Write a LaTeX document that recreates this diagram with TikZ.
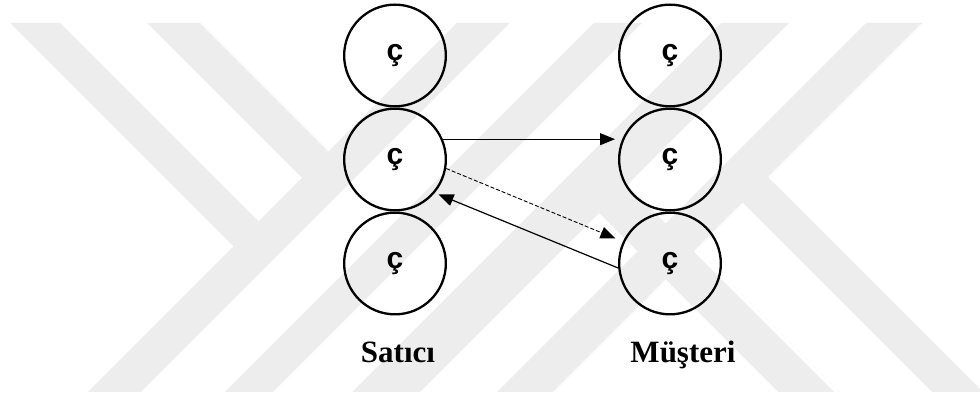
\documentclass[tikz,border=0pt]{standalone}
\usepackage{fontspec}
\setmainfont{Liberation Serif}
\newfontfamily\harf{Liberation Sans}
\usetikzlibrary{positioning}
\usetikzlibrary{calc}
\usetikzlibrary{arrows.meta}

\begin{document}
\begin{tikzpicture}[x=1pt,y=1pt,
	halka/.style={circle,draw,line width=2.3pt,minimum size=101.7pt,inner sep=0pt,
		font=\harf\bfseries\fontsize{30}{30}\selectfont},
	etiket/.style={font=\bfseries\fontsize{31}{36}\selectfont,anchor=base},
	ok/.style={line width=1.2pt,-{Triangle[length=15pt,width=12pt]}},
	serit/.style={fill=black!7,draw=none}]
	\useasboundingbox (0,0) rectangle (980,398);
	% filigran
	\begin{scope}[yshift=398pt,yscale=-1]
		\clip (0,23) rectangle (980,392);
		\fill[serit] (88,392) -- ++(53,0) -- ++(369,-369) -- ++(-53,0) -- cycle;
		\fill[serit] (225,392) -- ++(48,0) -- ++(369,-369) -- ++(-48,0) -- cycle;
		\fill[serit] (352,392) -- ++(68,0) -- ++(369,-369) -- ++(-68,0) -- cycle;
		\fill[serit] (497,392) -- ++(56,0) -- ++(369,-369) -- ++(-56,0) -- cycle;
		\fill[serit] (10,23) -- (60,23) -- (259,222) -- (234,247) -- cycle;
		\fill[serit] (147,23) -- (200,23) -- (329,152) -- (302.5,178.5) -- cycle;
		\fill[serit] (714.5,174.5) -- (768,177) -- (983,392) -- (932,392) -- cycle;
		\fill[serit] (599,213) -- (627,185) -- (834,392) -- (778,392) -- cycle;
	\end{scope}
	\node[halka] (s1) at (395,342.5) {ç};
	\node[halka,below=0pt of s1] (s2) {ç};
	\node[halka,below=0pt of s2] (s3) {ç};
	\node[halka] (m1) at (670,342.5) {ç};
	\node[halka,below=0pt of m1] (m2) {ç};
	\node[halka,below=0pt of m2] (m3) {ç};
	\node[etiket] (satici) at (398,35) {Satıcı};
	\node[etiket] (musteri) at (683,35) {Müşteri};
	\draw[ok,shorten >=3pt] (s2.23) -- (s2.23 -| m2.west);
	\draw[ok,line width=0.9pt,dash pattern=on 4pt off 2pt,shorten >=8pt] (s2.-10) -- (m3.155);
	\draw[ok,shorten >=4pt] (m3.185) -- (s2.-40);
\end{tikzpicture}
\end{document}
